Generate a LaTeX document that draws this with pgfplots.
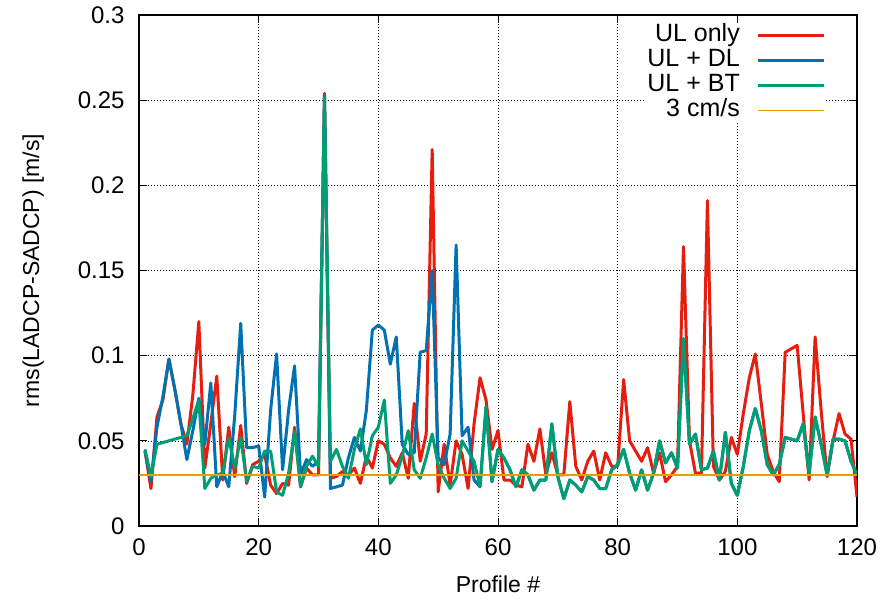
\documentclass[border=0pt]{standalone}
\usepackage{fontspec}
\setmainfont{Liberation Sans}
\usepackage{pgfplots}
\usepackage{pgfplotstable}
\pgfplotsset{compat=1.18}
\definecolor{gpred}{HTML}{E51E10}
\definecolor{gpblue}{HTML}{0072B2}
\definecolor{gpgreen}{HTML}{009E73}
\definecolor{gporange}{HTML}{E69F00}
\pgfplotstableread{
k red blue green
1 0.044 0.044 0.045
2 0.022 0.026 0.029
3 0.064 0.058 0.048
4 0.074 0.076 0.049
5 0.098 0.098 0.050
6 0.080 0.080 0.051
7 0.060 0.060 0.052
8 0.048 0.039 0.053
9 0.077 0.056 0.063
10 0.120 0.075 0.074
11 0.034 0.048 0.022
12 0.060 0.084 0.028
13 0.088 0.023 0.030
14 0.027 0.032 0.031
15 0.058 0.023 0.052
16 0.029 0.065 0.034
17 0.059 0.119 0.052
18 0.025 0.046 0.026
19 0.036 0.046 0.035
20 0.038 0.047 0.034
21 0.042 0.017 0.044
22 0.024 0.068 0.044
23 0.019 0.101 0.020
24 0.025 0.033 0.018
25 0.024 0.068 0.031
26 0.058 0.094 0.056
27 0.023 0.030 0.023
28 0.034 0.039 0.035
29 0.030 0.035 0.041
30 0.030 0.038 0.035
31 0.254 0.253 0.252
32 0.028 0.022 0.038
33 0.029 0.023 0.045
34 0.032 0.024 0.035
35 0.030 0.040 0.028
36 0.034 0.052 0.045
37 0.025 0.044 0.057
38 0.041 0.068 0.036
39 0.034 0.115 0.053
40 0.050 0.118 0.058
41 0.048 0.115 0.074
42 0.040 0.095 0.025
43 0.035 0.111 0.030
44 0.043 0.048 0.041
45 0.028 0.042 0.056
46 0.072 0.043 0.033
47 0.038 0.102 0.028
48 0.054 0.103 0.040
49 0.221 0.150 0.054
50 0.020 0.040 0.036
51 0.048 0.036 0.028
52 0.024 0.054 0.022
53 0.050 0.165 0.028
54 0.042 0.053 0.050
55 0.022 0.058 0.044
56 0.060 0.027 0.038
57 0.087 0.023 0.023
58 0.074 0.070 0.070
59 0.045 0.026 0.026
60 0.056 0.045 0.045
61 0.027 0.040 0.040
62 0.027 0.033 0.033
63 0.024 0.023 0.023
64 0.023 0.033 0.033
65 0.048 0.030 0.030
66 0.038 0.021 0.021
67 0.057 0.027 0.027
68 0.030 0.027 0.027
69 0.043 0.060 0.060
70 0.030 0.029 0.029
71 0.030 0.016 0.016
72 0.073 0.027 0.027
73 0.035 0.024 0.024
74 0.027 0.020 0.020
75 0.038 0.029 0.029
76 0.044 0.027 0.027
77 0.027 0.022 0.022
78 0.043 0.022 0.022
79 0.035 0.033 0.033
80 0.035 0.036 0.036
81 0.086 0.045 0.045
82 0.050 0.031 0.031
83 0.044 0.021 0.021
84 0.038 0.033 0.033
85 0.046 0.021 0.021
86 0.031 0.031 0.031
87 0.043 0.050 0.050
88 0.026 0.037 0.037
89 0.030 0.043 0.043
90 0.035 0.034 0.034
91 0.164 0.110 0.110
92 0.050 0.048 0.048
93 0.031 0.054 0.054
94 0.031 0.033 0.033
95 0.191 0.034 0.034
96 0.035 0.044 0.044
97 0.027 0.027 0.027
98 0.032 0.055 0.055
99 0.052 0.025 0.025
100 0.042 0.018 0.018
101 0.066 0.035 0.035
102 0.087 0.056 0.056
103 0.101 0.069 0.069
104 0.072 0.056 0.056
105 0.042 0.036 0.036
106 0.032 0.030 0.030
107 0.026 0.036 0.036
108 0.102 0.052 0.052
109 0.104 0.051 0.051
110 0.106 0.050 0.050
111 0.066 0.060 0.060
112 0.027 0.031 0.031
113 0.111 0.064 0.064
114 0.068 0.048 0.048
115 0.029 0.030 0.030
116 0.050 0.051 0.051
117 0.066 0.051 0.051
118 0.054 0.050 0.050
119 0.051 0.038 0.038
120 0.017 0.030 0.030
}\datatable
\begin{document}
\begin{tikzpicture}
\useasboundingbox (-139pt,-75pt) rectangle (744pt,526pt);
\begin{axis}[
  at={(0pt,0pt)}, anchor=south west,
  scale only axis, width=718pt, height=511pt,
  xmin=0, xmax=120, ymin=0, ymax=0.3,
  xtick={0,20,...,120},
  ytick={0,0.05,0.1,0.15,0.2,0.25,0.3},
  scaled y ticks=false,
  yticklabel style={/pgf/number format/fixed, /pgf/number format/precision=2, xshift=-11pt},
  xticklabel style={yshift=-9pt},
  /pgf/number format/assume math mode=true,
  tick label style={font=\fontsize{24}{27}\selectfont, black},
  label style={font=\fontsize{23}{26}\selectfont},
  xlabel={Profile \#},
  ylabel={rms(LADCP-SADCP) [m/s]},
  xlabel shift=13pt,
  ylabel shift=27pt,
  tick align=inside,
  major tick length=8pt,
  tick style={black, line width=1pt},
  axis line style={black, line width=1.2pt},
  grid=major,
  grid style={black, line width=0.6pt, dash pattern=on 1pt off 2pt},
  legend plot pos=right,
  legend cell align=right,
  legend image code/.code={\path (0pt,0pt); \draw[#1] (15pt,0pt) -- (81pt,0pt);},
  legend style={at={(1,1)}, anchor=north east, xshift=-31pt, yshift=-8pt,
    draw=none, fill=white, font=\fontsize{25}{27}\selectfont,
    row sep=0pt, inner sep=0pt,
    nodes={text height=16pt, text depth=5pt, inner sep=2pt}},
]
\addplot[gpred, line width=3pt, line join=round] table[x=k, y=red] {\datatable};
\addlegendentry{UL only}
\addplot[gpblue, line width=3pt, line join=round] table[x=k, y=blue] {\datatable};
\addlegendentry{UL + DL}
\addplot[gpgreen, line width=3pt, line join=round] table[x=k, y=green] {\datatable};
\addlegendentry{UL + BT}
\addplot[gporange, line width=1.5pt] coordinates {(0,0.03) (120,0.03)};
\addlegendentry{3 cm/s}
\end{axis}
\end{tikzpicture}
\end{document}
